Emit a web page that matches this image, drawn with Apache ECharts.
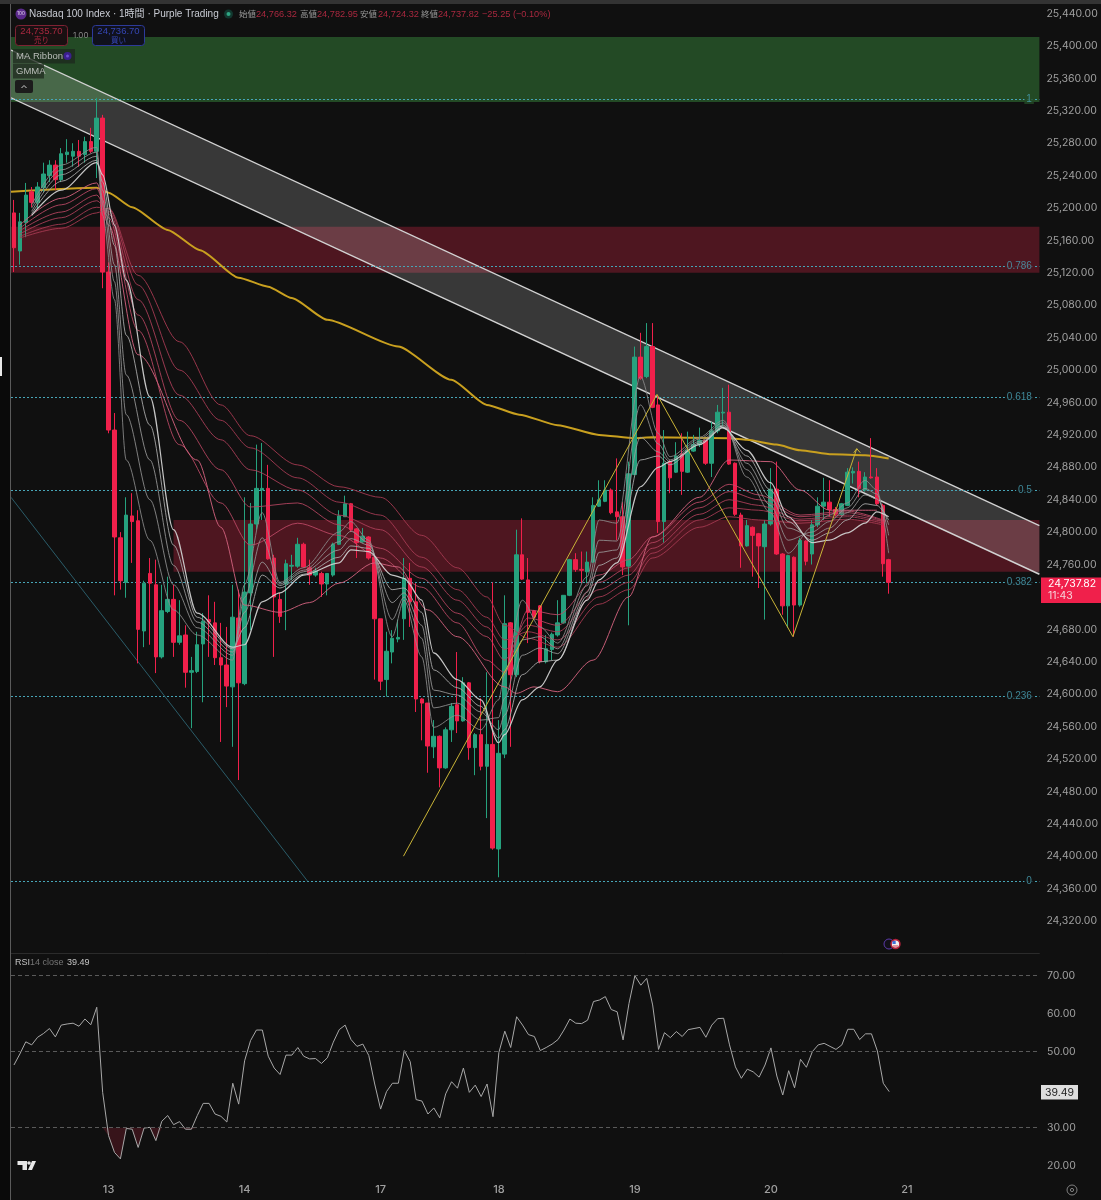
<!DOCTYPE html>
<html><head><meta charset="utf-8">
<style>html,body{margin:0;padding:0;background:#101010}#c{width:1101px;height:1200px}</style>
<script src="https://cdn.jsdelivr.net/npm/echarts@6/dist/echarts.min.js"></script>
</head><body><div id="c"></div>
<script>
// ---------- values ----------
const dayTickIndex=[16,39,62,82,105,128,151];
const dayTickLabels=['13','14','17','18','19','20','21'];
const barSlots=174;
// [open, close, low, high]
const ohlc=[
[25194,25151,25121,25210],[25147,25183,25130,25194],[25182,25216,25164,25231],[25220,25207,25201,25226],[25207,25226,25200,25232],
[25225,25242,25220,25256],[25240,25253,25232,25259],[25253,25235,25222,25259],[25235,25267,25232,25274],[25266,25269,25256,25285],
[25264,25270,25251,25280],[25270,25264,25251,25284],[25266,25282,25256,25288],[25282,25270,25268,25299],[25270,25311,25237,25336],
[25311,25121,25101,25315],[25121,24926,24922,25133],[24926,24794,24722,24947],[24793,24740,24729,24800],[24738,24821,24719,24843],
[24820,24813,24762,24848],[24814,24680,24638,24827],[24678,24737,24658,24740],[24749,24737,24661,24768],[24735,24646,24626,24766],
[24646,24703,24644,24735],[24702,24717,24700,24745],[24717,24664,24646,24735],[24664,24672,24661,24716],[24673,24627,24608,24685],
[24627,24629,24558,24646],[24628,24661,24626,24677],[24662,24690,24590,24700],[24692,24689,24646,24722],[24688,24645,24636,24714],
[24645,24636,24541,24688],[24636,24610,24584,24683],[24609,24695,24535,24735],[24694,24614,24494,24729],[24613,24726,24611,24843],
[24725,24810,24679,24836],[24810,24854,24803,24908],[24852,24854,24815,24910],[24854,24767,24766,24883],[24768,24720,24646,24772],
[24717,24696,24688,24725],[24736,24761,24679,24766],[24758,24759,24741,24772],[24758,24785,24756,24793],[24785,24757,24756,24787],
[24756,24747,24735,24766],[24747,24752,24745,24756],[24749,24736,24720,24751],[24736,24749,24722,24749],[24747,24785,24745,24787],
[24785,24820,24784,24827],[24819,24835,24819,24845],[24835,24803,24800,24836],[24804,24787,24768,24805],[24788,24795,24787,24805],
[24794,24768,24766,24795],[24769,24693,24618,24770],[24693,24616,24605,24693],[24618,24653,24597,24677],[24652,24669,24638,24679],
[24668,24670,24664,24692],[24693,24743,24667,24768],[24743,24714,24683,24762],[24714,24594,24578,24737],[24594,24589,24543,24595],
[24589,24536,24503,24589],[24535,24548,24521,24568],[24548,24509,24485,24549],[24509,24556,24508,24559],[24556,24585,24541,24589],
[24587,24567,24552,24652],[24567,24614,24566,24621],[24614,24534,24519,24615],[24534,24550,24500,24552],[24550,24511,24506,24595],
[24511,24538,24447,24627],[24538,24410,24408,24738],[24409,24527,24374,24568],[24526,24687,24521,24722],[24688,24624,24535,24689],
[24624,24772,24621,24803],[24772,24742,24741,24817],[24741,24701,24663,24768],[24703,24695,24694,24704],[24709,24640,24638,24710],
[24640,24656,24638,24673],[24655,24674,24642,24676],[24673,24688,24671,24716],[24688,24722,24687,24722],[24722,24766,24721,24767],
[24766,24754,24751,24774],[24754,24753,24737,24776],[24751,24763,24737,24776],[24763,24833,24762,24843],[24832,24840,24831,24864],
[24838,24852,24837,24864],[24852,24824,24822,24854],[24825,24819,24790,24891],[24819,24757,24747,24837],[24758,24872,24685,24887],
[24871,25016,24870,25029],[25016,24990,24988,25046],[24992,25029,24990,25058],[25029,24954,24953,25058],[24957,24813,24799,24969],
[24813,24885,24787,24926],[24887,24867,24848,24889],[24874,24894,24873,24911],[24896,24875,24846,24922],[24874,24901,24873,24924],
[24900,24908,24899,24920],[24908,24913,24905,24929],[24913,24885,24883,24914],[24885,24925,24868,24936],[24925,24948,24922,24957],
[24947,24948,24930,24978],[24948,24884,24883,24982],[24885,24822,24820,24886],[24821,24783,24756,24824],[24783,24808,24782,24815],
[24806,24796,24745,24807],[24798,24783,24731,24799],[24782,24810,24692,24815],[24810,24853,24808,24879],[24853,24773,24772,24887],
[24773,24709,24698,24774],[24709,24771,24682,24772],[24769,24710,24671,24770],[24710,24790,24708,24793],[24789,24764,24759,24790],
[24773,24809,24760,24815],[24809,24832,24806,24843],[24832,24837,24815,24867],[24837,24828,24819,24864],[24828,24822,24819,24831],
[24822,24835,24819,24836],[24833,24874,24832,24879],[24873,24875,24860,24880],[24875,24854,24843,24887],[24852,24868,24850,24874],
[24868,24867,24866,24916],[24868,24835,24833,24879],[24833,24761,24745,24835],[24766,24738,24724,24767]];

const rsi14=[46.5,49.4,52.6,51.8,53.8,54.8,56.1,53.9,57.0,57.3,
57.5,56.7,58.6,57.1,61.7,39.3,27.9,23.5,21.8,29.8,
29.6,24.8,29.9,30.1,26.6,31.7,33.2,30.8,31.6,29.6,
29.6,33.2,36.4,36.4,33.6,33.0,31.5,41.7,36.2,47.6,
52.9,55.7,55.7,48.8,45.7,44.0,49.1,49.1,51.1,48.8,
48.1,48.2,46.9,48.4,52.5,55.8,57.0,53.2,51.4,52.0,
49.0,41.5,34.9,39.5,41.7,41.7,50.3,47.4,37.4,37.0,
33.6,35.2,32.6,38.9,42.1,40.4,45.7,39.3,41.2,38.2,
41.5,32.9,49.8,55.4,51.1,59.2,57.0,54.5,54.0,50.3,51.1,
52.0,53.2,55.7,58.6,57.5,57.4,58.3,63.2,63.6,64.5,
61.1,60.5,53.1,62.7,70.0,67.5,69.3,62.3,50.6,55.0,
53.7,55.3,54.0,55.8,56.1,56.4,53.8,57.0,58.7,58.8,
51.8,46.0,43.0,45.4,44.7,43.3,46.5,51.0,43.6,38.6,
45.0,40.5,48.0,45.9,50.0,51.8,52.2,51.4,50.6,51.8,
55.9,55.9,53.2,54.7,54.7,50.2,41.7,39.49];
const rsiTickLabels=[20,30,50,60,70];
const rsiBands=[70,50,30];

// long GMMA family
const redX=[1,8,14,16,21,28,35,40,48,55,62,69,75,80,83,87,92,99,104,108,116,121,126,133,141,147];
const red2=[25175,25204,25224,25188,25049,24908,24836,24784,24811,24796,24768,24732,24688,24642,24627,24704,24698,24747,24766,24794,24837,24859,24846,24821,24826,24815];
const red3=[25172,25195,25216,25193,25068,24938,24877,24831,24836,24809,24780,24743,24700,24671,24642,24694,24685,24738,24756,24787,24830,24850,24840,24819,24824,24814];
const red4=[25168,25188,25209,25196,25087,24969,24914,24877,24852,24821,24803,24757,24716,24683,24655,24685,24677,24729,24747,24780,24822,24840,24833,24816,24821,24813];
const red5=[25165,25180,25201,25199,25105,25000,24938,24904,24867,24837,24821,24769,24729,24695,24667,24677,24667,24720,24738,24774,24815,24830,24827,24814,24819,24811];
const red6=[25163,25175,25194,25200,25117,25035,24957,24919,24883,24856,24843,24796,24756,24720,24685,24669,24658,24711,24729,24768,24806,24819,24815,24811,24816,24809];
const pinkX=[1,8,14,16,21,31,35,39,45,50,55,61,65,70,75,83,85,88,92,98,104,108,116,121,128,133,138,146];
const pink=[25179,25212,25231,25179,25019,24889,24806,24710,24701,24713,24737,24762,24757,24704,24671,24609,24601,24609,24603,24642,24720,24794,24843,24889,24887,24852,24827,24827];

// short GMMA family
const greyX=[3,8,14,15,17,19,23,27,31,37,39,42,45,49,55,57,60,64,66,69,71,75,79,82,83,86,89,92,97,99,102,106,109,111,116,120,124,128,131,135,138,141,144,146,148];
const grey1=[25204,25253,25275,25191,25087,24889,24790,24704,24673,24642,24735,24824,24738,24756,24800,24813,24790,24671,24716,24646,24559,24574,24556,24593,24624,24716,24683,24663,24745,24815,24811,24992,24922,24893,24917,24938,24868,24824,24774,24806,24821,24836,24864,24852,24774];
const grey2=[25200,25247,25269,25210,25109,24945,24840,24735,24682,24648,24719,24793,24736,24753,24788,24801,24787,24692,24720,24669,24583,24589,24568,24571,24595,24667,24671,24656,24734,24790,24789,24957,24909,24889,24915,24935,24877,24833,24790,24800,24813,24830,24854,24847,24796];
const grey3=[25196,25241,25264,25222,25130,24994,24889,24759,24689,24652,24701,24763,24734,24751,24778,24792,24784,24713,24725,24685,24605,24599,24578,24556,24574,24648,24657,24650,24726,24775,24778,24917,24899,24887,24912,24932,24885,24843,24805,24795,24805,24824,24846,24841,24809];
const grey4=[25193,25233,25259,25232,25154,25043,24932,24784,24695,24656,24682,24747,24731,24748,24769,24783,24780,24729,24731,24701,24630,24608,24585,24546,24556,24624,24640,24642,24721,24759,24768,24889,24894,24883,24910,24930,24894,24852,24813,24790,24799,24815,24835,24833,24815];
const whiteRibbon=[25191,25222,25256,25241,25179,25111,24967,24803,24700,24658,24661,24714,24725,24747,24762,24778,24776,24747,24743,24716,24651,24618,24593,24540,24550,24593,24609,24642,24716,24741,24762,24856,24880,24887,24908,24929,24901,24861,24819,24787,24790,24799,24811,24825,24819];

// slow average
const goldX=[-0.5,14,16,20,26,31.5,38,43,47,53,65,74,80,85.5,92,99,105,108,121,124,129,133,138.4,144,148];
const gold=[25220,25225,25219,25201,25173,25148,25114,25103,25089,25062,25029,24988,24957,24945,24932,24920,24916,24917,24916,24914,24908,24901,24896,24895,24891];

// drawings
const fibPrices=[25334.6,25128.5,24966.8,24852,24738.4,24598,24369.4];
const fibLabels=['1','0.786','0.618','0.5','0.382','0.236','0'];
const channelX=[-0.5,173.5];
const channelTop=[25395,24808];
const channelBottom=[25336,24748];
const zigzagX=[65.9,108.8,131.8,142.6];
const zigzag=[24400,24970,24671,24903];
const arrowX=[142.1,142.6,143.2];
const arrowY=[24898,24903,24898];
const trendX=[-0.5,49.7];
const trend=[24843,24369];
// [first slot, last slot, top price, bottom price]
const greenZones=[[-0.5,173.5,25411,25331]];
const redZones=[[-0.5,173.5,25177,25120],[27,173.5,24815,24751]];

const priceMin=24280, priceMax=25448, priceStep=40;
const rsiMin=16, rsiMax=76, rsiStep=2;

// ---------- chart ----------
const categories=[];
for(let i=0;i<barSlots;i++){const k=dayTickIndex.indexOf(i);categories.push(k>=0?dayTickLabels[k]:'');}
const FONT='Inter,"Noto Sans CJK JP","Liberation Sans",sans-serif';
const HDR='"Liberation Sans","Noto Sans CJK JP",sans-serif';
const BG='#101010', GREEN_Z='#234a25', RED_Z='#4e1620';
const inZone=(p,zs)=>zs.some(z=>p<=z[2]&&p>=z[3]);
const fibBg=p=>inZone(p,greenZones)?GREEN_Z:inZone(p,redZones)?RED_Z:BG;
const zip=(xs,ys)=>xs.map((x,i)=>[x,ys[i]]);
const AX={xAxisIndex:2,yAxisIndex:0};
const mk=(name,xs,ys,color,width,opacity,z,smooth)=>({name,type:'line',...AX,data:zip(xs,ys),showSymbol:false,symbol:'none',silent:true,animation:false,z:z,smooth:smooth===undefined?0.3:smooth,smoothMonotone:'x',lineStyle:{color,width,opacity}});
const zoneSeries=(name,data,color)=>({name,type:'custom',...AX,data,z:1,silent:true,animation:false,clip:true,encode:{x:[0,1],y:[2,3]},
  renderItem:(p,api)=>{const a=api.coord([api.value(0),api.value(2)]),b=api.coord([api.value(1),api.value(3)]);
    return {type:'rect',shape:{x:a[0],y:a[1],width:b[0]-a[0],height:b[1]-a[1]},style:{fill:color}};}});

const T=(x,y,text,size,color,extra)=>({type:'text',x,y,z:50,silent:true,style:Object.assign({text,fill:color,fontSize:size,fontFamily:FONT,textVerticalAlign:'middle',verticalAlign:'middle'},extra||{})});
const R=(x,y,w,h,fill,stroke,r)=>({type:'rect',z:49,silent:true,shape:{x,y,width:w,height:h,r:r||0},style:{fill,stroke:stroke||null,lineWidth:1}});
const C=(cx,cy,r,fill,stroke)=>({type:'circle',z:49,silent:true,shape:{cx,cy,r},style:{fill,stroke:stroke||null,lineWidth:1}});
const hdrRed='#a9283f', hdrGrey='#9a9a9a';
const chrome=[
 R(0,0,10,1200,'#0a0a0a'),R(10,4,1,1196,'#5a5a5a'),R(0,0,1101,4,'#333333'),R(0,357,2,19,'#e8e8e8'),
 C(21,14,5.5,'#5b2a8c'),T(21,14,'100',4.5,'#e8e0f0',{align:'center'}),
 T(29,14.5,'Nasdaq 100 Index · 1時間 · Purple Trading',10,'#c9ccd4',{fontFamily:HDR}),
 C(228.5,14,4.5,'#12382f'),C(228.5,14,2,'#2fa583'),
 T(239,14,'始値',8.5,hdrGrey),T(256,14.5,'24,766.32',9.2,hdrRed,{fontFamily:HDR}),
 T(300,14,'高値',8.5,hdrGrey),T(317,14.5,'24,782.95',9.2,hdrRed,{fontFamily:HDR}),
 T(360,14,'安値',8.5,hdrGrey),T(378,14.5,'24,724.32',9.2,hdrRed,{fontFamily:HDR}),
 T(421,14,'終値',8.5,hdrGrey),T(438,14.5,'24,737.82',9.2,hdrRed,{fontFamily:HDR}),T(482,14.5,'−25.25 (−0.10%)',9.2,hdrRed,{fontFamily:HDR}),
 R(15.5,25.5,52,20,'#1a1012','#7e2233',3),T(41.5,31.5,'24,735.70',9.5,'#a9283f',{align:'center',fontFamily:HDR}),T(41.5,40.5,'売り',7.5,'#a9283f',{align:'center'}),
 T(73,36,'1.00',8,'#8a8a8a'),
 R(92.5,25.5,52,20,'#10111d','#2d3a9a',3),T(118.5,31.5,'24,736.70',9.5,'#3546b5',{align:'center',fontFamily:HDR}),T(118.5,40.5,'買い',7.5,'#3546b5',{align:'center'}),
 R(13,49,62,14.5,'rgba(30,40,30,0.75)'),T(16,56.5,'MA Ribbon',9.5,'#b9bdb9',{fontFamily:HDR}),C(67.5,56,4,'#3a1e8c'),C(67.5,56,1.5,'#6a4cd0'),
 R(13,64,31,14.5,'rgba(30,40,30,0.75)'),T(16,71.5,'GMMA',9.5,'#b9bdb9',{fontFamily:HDR}),
 R(15,80,18,13,'#1c1c1c',null,2),{type:'polyline',z:50,silent:true,shape:{points:[[21.5,88],[24,85.5],[26.5,88]]},style:{stroke:'#cfcfcf',lineWidth:1,fill:null}},
 C(889,944,5,'#121018','#5b3aa8'),C(895.5,944,5.2,'#b3203a'),C(895.5,944,3.6,'#f0f0f0'),R(892.5,941,3.2,3,'#3f6fd8'),R(893,945.5,5,1,'#c83a4c'),
 R(1041,577.5,60,25.5,'#f0204b'),T(1048,584,'24,737.82',10.5,'#ffffff'),T(1048,596,'11:43',10.5,'#f6d2da'),
 T(15,963,'RSI',9,'#c4c4c4',{fontFamily:HDR}),T(30,963,'14 close',9,'#767676',{fontFamily:HDR}),T(67,963,'39.49',9,'#c4c4c4',{fontFamily:HDR}),
 R(1041,1085,37,14.5,'#dedede'),T(1059.5,1092.5,'39.49',10.5,'#202020',{align:'center'}),
 {type:'polygon',z:50,silent:true,shape:{points:[[17.5,1161],[27,1161],[27,1170],[22.5,1170],[22.5,1165],[17.5,1165]]},style:{fill:'#e8e8e8'}},
 C(29,1163,1.8,'#e8e8e8'),
 {type:'polygon',z:50,silent:true,shape:{points:[[32,1161],[36,1161],[32,1170],[28,1170]]},style:{fill:'#e8e8e8'}},
 {type:'circle',z:50,silent:true,shape:{cx:1072,cy:1190,r:5},style:{fill:null,stroke:'#808080',lineWidth:1}},
 {type:'circle',z:50,silent:true,shape:{cx:1072,cy:1190,r:1.6},style:{fill:null,stroke:'#808080',lineWidth:1}}
];

const priceTop=46-(priceMax-25400)*0.8102;
const priceH=(priceMax-priceMin)*0.8102;
const option={
 backgroundColor:BG,animation:false,
 textStyle:{fontFamily:FONT},
 graphic:chrome,
 grid:[{left:11,right:61,top:priceTop,height:priceH},{left:11,right:61,top:952.9,height:228}],
 xAxis:[
  {type:'category',gridIndex:0,data:categories,boundaryGap:true,axisTick:{show:false},axisLabel:{show:false},axisLine:{show:true,lineStyle:{color:'#2b2b2b'}},splitLine:{show:false}},
  {type:'category',gridIndex:1,data:categories,boundaryGap:true,axisTick:{show:false},axisLine:{show:false},splitLine:{show:false},
   axisLabel:{show:true,interval:0,margin:3,color:'#a0a0a0',fontSize:11,fontWeight:500,fontFamily:FONT,hideOverlap:false}},
  {type:'value',gridIndex:0,min:-0.5,max:barSlots-0.5,show:false,splitLine:{show:false}}
 ],
 yAxis:[
  {type:'value',gridIndex:0,position:'right',min:priceMin,max:priceMax,interval:priceStep,scale:true,splitLine:{show:false},axisLine:{show:false},axisTick:{show:false},
   axisLabel:{color:'#a0a0a0',fontSize:10.5,margin:7,fontFamily:FONT,showMaxLabel:false,showMinLabel:false,
    formatter:v=>v.toLocaleString('en-US',{minimumFractionDigits:2,maximumFractionDigits:2})}},
  {type:'value',gridIndex:1,position:'right',min:rsiMin,max:rsiMax,interval:rsiStep,splitLine:{show:false},axisLine:{show:false},axisTick:{show:false},
   axisLabel:{color:'#a0a0a0',fontSize:10.5,margin:7,fontFamily:FONT,hideOverlap:false,
    formatter:v=>rsiTickLabels.includes(v)?v.toFixed(2):''}}
 ],
 series:[
  zoneSeries('Green zone',greenZones,GREEN_Z),
  zoneSeries('Red zone',redZones,RED_Z),
  {name:'Channel',type:'custom',...AX,data:[[0]],z:2,silent:true,animation:false,clip:true,encode:{x:0,y:-1},
   renderItem:(p,api)=>{const a=api.coord([channelX[0],channelTop[0]]),b=api.coord([channelX[1],channelTop[1]]),c=api.coord([channelX[1],channelBottom[1]]),d=api.coord([channelX[0],channelBottom[0]]);
    return {type:'group',children:[
     {type:'polygon',shape:{points:[a,b,c,d]},style:{fill:'rgba(255,255,255,0.17)'}},
     {type:'line',shape:{x1:a[0],y1:a[1],x2:b[0],y2:b[1]},style:{stroke:'#d2d2d2',lineWidth:1.4}},
     {type:'line',shape:{x1:d[0],y1:d[1],x2:c[0],y2:c[1]},style:{stroke:'#d2d2d2',lineWidth:1.4}}]};}},
  {name:'Fib levels',type:'line',...AX,data:[],z:3,silent:true,animation:false,
   markLine:{silent:true,symbol:'none',animation:false,z:3,label:{show:false},lineStyle:{color:'#47a5b7',type:[2,2],width:1,opacity:1},data:fibPrices.map(p=>({yAxis:p}))}},
  {name:'Fib labels',type:'scatter',...AX,data:fibPrices.map(p=>({value:[barSlots-0.5,p],label:{backgroundColor:fibBg(p)}})),symbolSize:1,z:5,zlevel:1,silent:true,animation:false,clip:false,itemStyle:{color:'transparent'},
   label:{show:true,position:'left',distance:5,color:'#4aa3b6',fontSize:10,fontFamily:HDR,padding:[0,2],formatter:p=>fibLabels[p.dataIndex]}},
  mk('Trend',trendX,trend,'#2a5c69',1,1,3,false),
  mk('Slow MA',goldX,gold,'#c9a01f',2,1,4,0.2),
  {name:'Nasdaq 100',type:'candlestick',xAxisIndex:0,yAxisIndex:0,data:ohlc,barWidth:4,z:6,silent:true,animation:false,
   itemStyle:{color:'#26a27e',color0:'#f0204b',borderColor:'#26a27e',borderColor0:'#f0204b',borderWidth:1}},
  mk('GMMA long 2',redX,red2,'#bf4a67',1,.85,7),
  mk('GMMA long 3',redX,red3,'#b84561',1,.85,7),
  mk('GMMA long 4',redX,red4,'#b2415c',1,.85,7),
  mk('GMMA long 5',redX,red5,'#aa3c56',1,.85,7),
  mk('GMMA long 6',redX,red6,'#a43850',1,.9,7),
  mk('GMMA pink',pinkX,pink,'#cc5f7a',1,.95,7),
  mk('GMMA short 1',greyX,grey1,'#8c8c8c',1,.85,8),
  mk('GMMA short 2',greyX,grey2,'#929292',1,.85,8),
  mk('GMMA short 3',greyX,grey3,'#9a9a9a',1,.85,8),
  mk('GMMA short 4',greyX,grey4,'#a6a6a6',1,.9,8),
  mk('MA Ribbon',greyX,whiteRibbon,'#cfcfcf',1.2,.95,8),
  mk('Pattern',zigzagX,zigzag,'#c9b437',1,1,9,false),
  mk('Pattern arrow',arrowX,arrowY,'#c9b437',1,1,9,false),
  {name:'RSI oversold',type:'line',xAxisIndex:1,yAxisIndex:1,data:rsi14.map(v=>Math.min(v,rsiBands[2])),showSymbol:false,symbol:'none',silent:true,animation:false,lineStyle:{width:0},z:2,
   areaStyle:{origin:rsiBands[2],color:'rgba(120,28,44,0.55)'}},
  {name:'RSI',type:'line',xAxisIndex:1,yAxisIndex:1,data:rsi14,showSymbol:false,symbol:'none',silent:true,animation:false,z:3,lineStyle:{color:'#a8a8a8',width:1},
   markLine:{silent:true,symbol:'none',animation:false,label:{show:false},lineStyle:{color:'#5a5a5a',type:[4,3],width:1},data:rsiBands.map(v=>({yAxis:v}))}}
 ]
};
const chart=echarts.init(document.getElementById('c'),null,{renderer:'canvas',width:1101,height:1200});
chart.setOption(option);
</script></body></html>
